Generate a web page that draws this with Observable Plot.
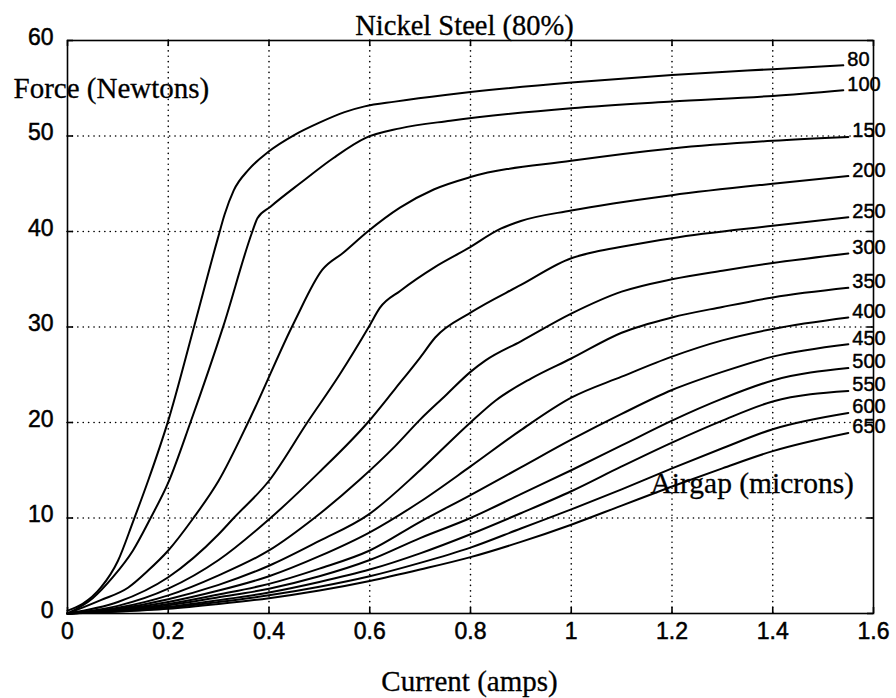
<!DOCTYPE html>
<html>
<head>
<meta charset="utf-8">
<script src="https://cdn.jsdelivr.net/npm/d3@7"></script>
<script src="https://cdn.jsdelivr.net/npm/@observablehq/plot@0.6"></script>
<style>
  body { margin: 0; background: #fff; }
  #chart { width: 896px; height: 698px; }
  /* slightly heavier tick numerals */
  #chart svg g[aria-label$="tick label"] { stroke: #000; stroke-width: 0.5px; }
</style>
</head>
<body>
<div id="chart"></div>
<script>
// Force vs. coil current for a nickel steel (80%) actuator, one curve per airgap (microns).
// Each curve is a list of [current (A), force (N)] pairs.
const gaps = [80, 100, 150, 200, 250, 300, 350, 400, 450, 500, 550, 600, 650];

const gap80 = [[0,0.3],[0.03,1.0],[0.066,2.7],[0.1,5.5],[0.13,9.6],[0.16,13.9],[0.2,20.2],[0.25,29.8],[0.298,39.2],[0.312,41.8],[0.33,44.3],[0.36,46.5],[0.4,48.4],[0.45,50.1],[0.5,51.4],[0.55,52.5],[0.59,53.1],[0.65,53.6],[0.75,54.3],[0.8,54.6],[1.0,55.6],[1.2,56.4],[1.4,57.0],[1.54,57.4]];
const gap100 = [[0,0],[0.05,1.6],[0.09,3.8],[0.13,6.6],[0.165,10],[0.2,13.7],[0.244,20],[0.31,30.2],[0.367,40],[0.377,41.4],[0.403,42.6],[0.463,45.1],[0.528,47.7],[0.592,49.8],[0.66,50.8],[0.76,51.6],[1.0,52.9],[1.2,53.6],[1.4,54.2],[1.54,54.8]];
const gap150 = [[0,0],[0.066,1.4],[0.12,2.7],[0.16,4.5],[0.2,6.6],[0.25,10],[0.3,13.9],[0.363,20.5],[0.45,30.5],[0.506,36.0],[0.548,37.8],[0.596,40.0],[0.66,42.5],[0.727,44.4],[0.8,45.7],[1.0,47.4],[1.2,48.7],[1.4,49.5],[1.55,49.9]];
const gap200 = [[0,0],[0.1,1.2],[0.2,3.8],[0.3,8.3],[0.33,10],[0.4,13.9],[0.476,20],[0.54,25],[0.598,30],[0.62,32],[0.661,33.8],[0.73,36.3],[0.794,38.2],[0.86,40.3],[0.9,41.1],[1.0,42.2],[1.2,43.8],[1.4,45.0],[1.55,45.8]];
const gap250 = [[0,0],[0.1,0.8],[0.2,2.6],[0.3,5.6],[0.403,10],[0.5,14.8],[0.596,20],[0.65,23.5],[0.7,26.8],[0.73,28.9],[0.8,31.5],[0.9,34.4],[1.0,37.2],[1.05,37.9],[1.1,38.4],[1.2,39.3],[1.4,40.6],[1.55,41.5]];
const gap300 = [[0,0],[0.1,0.6],[0.2,1.9],[0.3,4.0],[0.4,6.6],[0.49,10],[0.58,14],[0.65,17.5],[0.7,20.3],[0.75,22.8],[0.8,25.3],[0.83,26.5],[0.9,28.5],[1.0,31.4],[1.1,33.7],[1.2,35.0],[1.3,35.9],[1.4,36.7],[1.55,37.7]];
const gap350 = [[0,0],[0.1,0.5],[0.2,1.5],[0.3,3.0],[0.4,5.0],[0.5,7.6],[0.596,10.3],[0.7,15],[0.8,20],[0.85,22.3],[0.92,24.6],[1.0,26.7],[1.1,29.4],[1.2,31],[1.3,32.1],[1.4,33.1],[1.55,34.1]];
const gap400 = [[0,0],[0.1,0.4],[0.2,1.2],[0.3,2.4],[0.4,3.9],[0.5,6.0],[0.6,8.5],[0.7,11.7],[0.8,15.4],[0.9,19.2],[1.0,22.6],[1.1,24.8],[1.2,26.9],[1.3,28.6],[1.4,29.8],[1.55,31.0]];
const gap450 = [[0,0],[0.1,0.35],[0.2,1.0],[0.3,2.0],[0.4,3.1],[0.5,4.7],[0.6,6.6],[0.7,9.6],[0.8,12.4],[0.9,15.3],[1.0,18.2],[1.1,20.9],[1.2,23.4],[1.3,25.3],[1.4,26.9],[1.55,28.2]];
const gap500 = [[0,0],[0.1,0.3],[0.2,0.85],[0.3,1.7],[0.4,2.6],[0.5,3.9],[0.6,5.6],[0.7,7.9],[0.8,10.0],[0.9,12.5],[1.0,15.0],[1.1,17.6],[1.2,20.2],[1.3,22.5],[1.4,24.4],[1.55,25.7]];
const gap550 = [[0,0],[0.1,0.25],[0.2,0.7],[0.3,1.4],[0.4,2.2],[0.5,3.3],[0.6,4.6],[0.7,6.3],[0.8,8.3],[0.9,10.5],[1.0,12.8],[1.1,15.4],[1.2,17.9],[1.3,20.2],[1.4,22.2],[1.55,23.3]];
const gap600 = [[0,0],[0.1,0.2],[0.2,0.6],[0.3,1.2],[0.4,1.9],[0.5,2.8],[0.6,3.9],[0.7,5.3],[0.8,6.9],[0.9,8.9],[1.0,10.9],[1.1,13.0],[1.2,15.2],[1.3,17.3],[1.4,19.3],[1.55,21.0]];
const gap650 = [[0,0],[0.1,0.2],[0.2,0.5],[0.3,1.0],[0.4,1.6],[0.5,2.4],[0.6,3.4],[0.7,4.6],[0.8,5.9],[0.9,7.5],[1.0,9.3],[1.1,11.3],[1.2,13.3],[1.3,15.2],[1.4,17.0],[1.55,18.9]];

const xTicks = [0, 0.2, 0.4, 0.6, 0.8, 1, 1.2, 1.4, 1.6];
const xTickLabels = ["0", "0.2", "0.4", "0.6", "0.8", "1", "1.2", "1.4", "1.6"];
const yTicks = [0, 10, 20, 30, 40, 50, 60];
const yTickLabels = ["0", "10", "20", "30", "40", "50", "60"];

const curveByGap = new Map([
  [80, gap80], [100, gap100], [150, gap150], [200, gap200], [250, gap250],
  [300, gap300], [350, gap350], [400, gap400], [450, gap450], [500, gap500],
  [550, gap550], [600, gap600], [650, gap650]
]);

const rows = gaps.flatMap(g => curveByGap.get(g).map(([current, force]) => ({gap: g, current, force})));
const ends = gaps.map(g => {
  const pts = curveByGap.get(g);
  const [current, force] = pts[pts.length - 1];
  return {gap: g, current, force};
});

// Layout
const W = 896, H = 698;
const M = {top: 40, right: 23, bottom: 85, left: 67};
const frameW = W - M.left - M.right;
const frameH = H - M.top - M.bottom;
const tickLen = 6;

const sans = "'Liberation Sans', Arial, Helvetica, sans-serif";
const serif = "'Liberation Serif', 'Times New Roman', Times, serif";
const dotted = {stroke: "#000", strokeOpacity: 1, strokeWidth: 1.6, strokeDasharray: "0.1,5.3", strokeLinecap: "round"};
const ink = {fill: "#000", stroke: "#000", strokeWidth: 0.45};
const tickStyle = {stroke: "#000", strokeWidth: 1.6};

const chart = Plot.plot({
  width: W,
  height: H,
  marginLeft: M.left,
  marginRight: M.right,
  marginTop: M.top,
  marginBottom: M.bottom,
  x: {domain: [0, 1.6]},
  y: {domain: [0, 60]},
  style: {background: "#fff", color: "#000", fontFamily: sans, fontSize: "23px"},
  marks: [
    Plot.gridX(xTicks.slice(1, -1), dotted),
    Plot.gridY(yTicks.slice(1, -1), dotted),
    Plot.frame({stroke: "#000", strokeWidth: 1.6}),
    // inward tick marks on all four sides
    Plot.ruleX(xTicks, {...tickStyle, insetTop: frameH - tickLen}),
    Plot.ruleX(xTicks, {...tickStyle, insetBottom: frameH - tickLen}),
    Plot.ruleY(yTicks, {...tickStyle, insetRight: frameW - tickLen}),
    Plot.ruleY(yTicks, {...tickStyle, insetLeft: frameW - tickLen}),
    Plot.axisX(xTicks, {anchor: "bottom", tickSize: 0, tickPadding: 9,
      tickFormat: d => xTickLabels[xTicks.indexOf(d)], label: null, fontSize: 23}),
    Plot.axisY(yTicks, {anchor: "left", tickSize: 0, tickPadding: 14,
      tickFormat: d => yTickLabels[yTicks.indexOf(d)], label: null, fontSize: 23, dy: -3}),
    Plot.line(rows, {x: "current", y: "force", z: "gap", stroke: "#000", strokeWidth: 2,
      strokeLinejoin: "round", curve: "monotone-x"}),
    Plot.text(ends, {x: "current", y: "force", text: d => String(d.gap), textAnchor: "start",
      dx: 4, dy: -6, fontSize: 20, fontFamily: sans, ...ink}),
    Plot.text(["Nickel Steel (80%)"], {frameAnchor: "top", text: d => d, lineAnchor: "bottom",
      dx: -6, dy: -6, fontSize: 28.5, fontFamily: serif, ...ink, strokeWidth: 0.3}),
    Plot.text(["Force (Newtons)"], {frameAnchor: "top-left", text: d => d, textAnchor: "start", lineAnchor: "bottom",
      dx: -54, dy: 57, fontSize: 29, fontFamily: serif, ...ink, strokeWidth: 0.3}),
    Plot.text(["Current (amps)"], {frameAnchor: "bottom", text: d => d, lineAnchor: "bottom",
      dx: -1, dy: 77, fontSize: 29, fontFamily: serif, ...ink, strokeWidth: 0.3}),
    Plot.text(["Airgap (microns)"], {frameAnchor: "top-left", text: d => d, textAnchor: "start", lineAnchor: "bottom",
      dx: 583, dy: 452, fontSize: 29.5, fontFamily: serif, ...ink, strokeWidth: 0.3})
  ]
});

document.getElementById("chart").appendChild(chart);
</script>
</body>
</html>
